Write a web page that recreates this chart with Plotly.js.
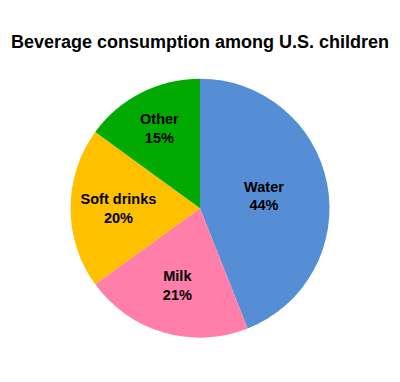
<!DOCTYPE html>
<html>
<head>
<meta charset="utf-8">
<script src="https://cdn.plot.ly/plotly-3.0.1.min.js"></script>
<style>html,body{margin:0;padding:0;background:#fff;}#chart{width:400px;height:382px;}</style>
</head>
<body>
<div id="chart"></div>
<script>
const categories = ["Water", "Milk", "Soft drinks", "Other"];
const shares = [44, 21, 20, 15];
const sliceColors = ["#558ED5", "#FF7FAA", "#FFC000", "#00AA00"];

const trace = {
  type: "pie",
  labels: categories,
  values: shares,
  sort: false,
  direction: "clockwise",
  rotation: 0,
  marker: { colors: sliceColors, line: { width: 0 } },
  texttemplate: "<b>%{label}<br>%{value}%</b>",
  textposition: "inside",
  insidetextorientation: "horizontal",
  textfont: { family: "Liberation Sans, Arial, sans-serif", size: 14.5, color: "#000" },
  hoverinfo: "none",
  showlegend: false,
  domain: { x: [0.172, 0.828], y: [0.116, 0.794] }
};

const layout = {
  width: 400,
  height: 382,
  margin: { l: 0, r: 0, t: 0, b: 0 },
  paper_bgcolor: "#fff",
  title: {
    text: "<b>Beverage consumption among U.S. children</b>",
    font: { family: "Liberation Sans, Arial, sans-serif", size: 18, color: "#000" },
    x: 0.5, xanchor: "center", y: 0.892, yanchor: "middle", yref: "container"
  },
  uniformtext: { mode: false }
};

Plotly.newPlot("chart", [trace], layout, { displayModeBar: false, staticPlot: true });
</script>
</body>
</html>
